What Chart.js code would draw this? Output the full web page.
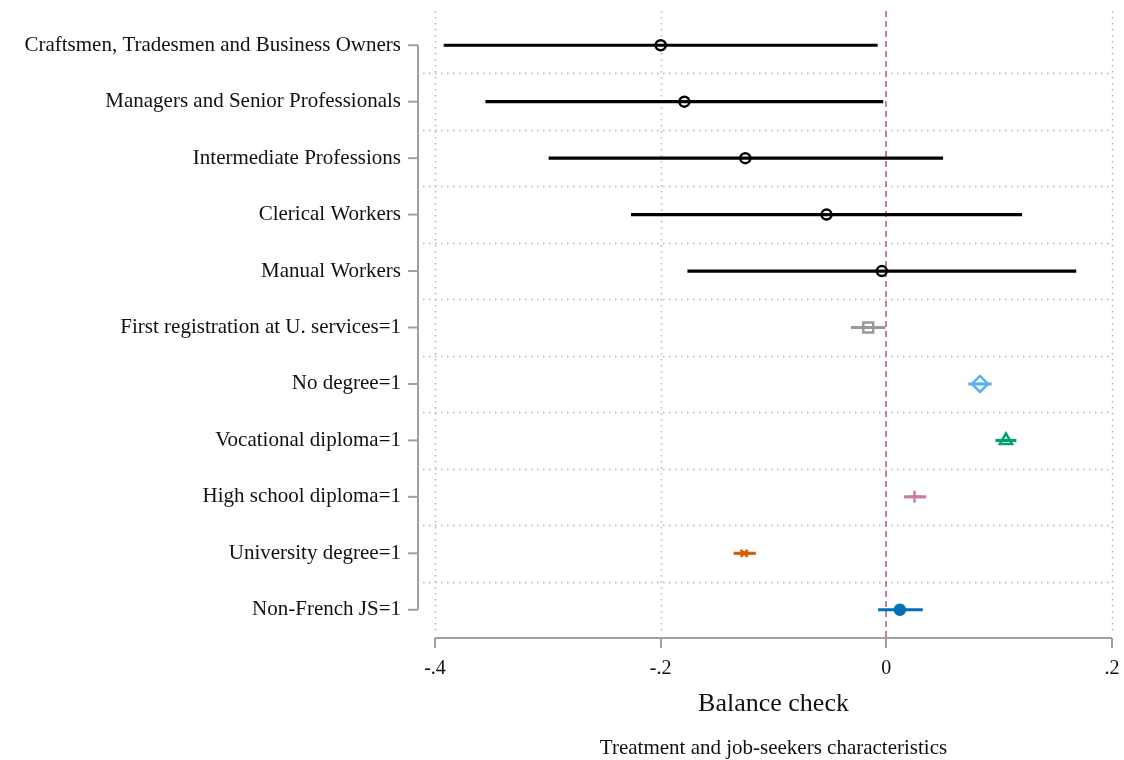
<!DOCTYPE html>
<html>
<head>
<meta charset="utf-8">
<script src="https://cdn.jsdelivr.net/npm/chart.js@4/dist/chart.umd.min.js"></script>
<style>
  html, body { margin: 0; padding: 0; background: #fff; }
  #wrap { width: 1124px; height: 760px; }
</style>
</head>
<body>
<div id="wrap"><canvas id="myChart" width="1124" height="760"></canvas></div>
<script>
// variables on the y axis
var vars = ['Craftsmen, Tradesmen and Business Owners', 'Managers and Senior Professionals',
  'Intermediate Professions', 'Clerical Workers', 'Manual Workers',
  'First registration at U. services=1', 'No degree=1', 'Vocational diploma=1',
  'High school diploma=1', 'University degree=1', 'Non-French JS=1'];
// point estimates and 95% bounds
var est  = [-0.200, -0.179, -0.125, -0.053, -0.004, -0.016, 0.083, 0.106, 0.025, -0.126, 0.012];
var low  = [-0.392, -0.355, -0.299, -0.226, -0.176, -0.031, 0.073, 0.097, 0.016, -0.135, -0.007];
var high = [-0.008, -0.003, 0.050, 0.120, 0.168, -0.001, 0.093, 0.115, 0.035, -0.116, 0.032];
var xTicks = [-0.4, -0.2, 0, 0.2];

var cols = ['#000000', '#000000', '#000000', '#000000', '#000000',
  '#999999', '#56B4E9', '#009E73', '#CC79A7', '#D55E00', '#0072B2'];
var styles = ['circle', 'circle', 'circle', 'circle', 'circle',
  'rect', 'rectRot', 'triangle', 'cross', 'crossRot', 'circle'];
var sizes = [5, 5, 5, 5, 5, 7, 8, 7, 6, 5, 5];
var fills = ['#fff', '#fff', '#fff', '#fff', '#fff', '#fff', '#fff', '#fff', '#fff', '#fff', '#0072B2'];

var serif = "'Liberation Serif', 'DejaVu Serif', serif";

function fmt(v) {
  var s = (Math.round(v * 10) / 10).toString();
  return s.replace('0.', '.');
}

// stata-like frame: dotted grid, detached y axis, zero line
var framePlugin = {
  id: 'frame',
  beforeDatasetsDraw: function(chart) {
    var c = chart.ctx, a = chart.chartArea;
    var xs = chart.scales.x, ys = chart.scales.y;
    c.save();
    c.strokeStyle = '#b4b4b4';
    c.lineWidth = 1.5;
    c.setLineDash([1.5, 4.5]);
    xTicks.forEach(function(t) {
      if (t === 0) return;
      var px = Math.round(xs.getPixelForValue(t)) + 0.5;
      c.beginPath(); c.moveTo(px, a.top - 6); c.lineTo(px, a.bottom - 6); c.stroke();
    });
    for (var i = 0; i < vars.length - 1; i++) {
      var py = Math.round((ys.getPixelForValue(i) + ys.getPixelForValue(i + 1)) / 2) + 0.5;
      c.beginPath(); c.moveTo(a.left - 12, py); c.lineTo(a.right, py); c.stroke();
    }
    // zero line
    c.strokeStyle = '#CC79A7';
    c.lineWidth = 2;
    c.setLineDash([6, 4]);
    var zx = Math.round(xs.getPixelForValue(0));
    c.beginPath(); c.moveTo(zx, a.top - 6); c.lineTo(zx, a.bottom); c.stroke();
    c.setLineDash([]);
    // axes
    c.strokeStyle = '#a0a0a0';
    c.lineWidth = 2;
    c.beginPath(); c.moveTo(a.left, a.bottom); c.lineTo(a.right, a.bottom); c.stroke();
    xTicks.forEach(function(t) {
      var px = Math.round(xs.getPixelForValue(t));
      c.beginPath(); c.moveTo(px, a.bottom); c.lineTo(px, a.bottom + 10); c.stroke();
    });
    var ax = a.left - 17;
    var y0 = ys.getPixelForValue(0), y1 = ys.getPixelForValue(vars.length - 1);
    c.beginPath(); c.moveTo(ax, y0); c.lineTo(ax, y1); c.stroke();
    for (var k = 0; k < vars.length; k++) {
      var ty = ys.getPixelForValue(k);
      c.beginPath(); c.moveTo(ax, ty); c.lineTo(ax - 10, ty); c.stroke();
    }
    c.restore();
  },
  afterDraw: function(chart) {
    var c = chart.ctx, a = chart.chartArea;
    c.save();
    c.fillStyle = '#111';
    c.font = '21px ' + serif;
    c.textAlign = 'center';
    c.textBaseline = 'middle';
    c.fillText('Treatment and job-seekers characteristics', (a.left + a.right) / 2, 748);
    c.restore();
  }
};

var ctx = document.getElementById('myChart');
var myChart = new Chart(ctx, {
  type: 'bar',
  data: {
    labels: vars,
    datasets: [
      {
        type: 'bar',
        indexAxis: 'y',
        data: low.map(function(l, i) { return [l, high[i]]; }),
        backgroundColor: cols,
        barThickness: 2.5,
        grouped: false
      },
      {
        type: 'scatter',
        data: est.map(function(e, i) { return { x: e, y: vars[i] }; }),
        pointStyle: styles,
        pointRadius: sizes,
        pointBorderWidth: 2.5,
        borderWidth: 2.5,
        borderColor: cols,
        backgroundColor: fills
      }
    ]
  },
  options: {
    responsive: false,
    animation: false,
    layout: { padding: { top: 17, right: 12, bottom: 40, left: 0 } },
    plugins: { legend: { display: false }, tooltip: { enabled: false } },
    scales: {
      x: {
        type: 'linear',
        offset: false,
        min: -0.4, max: 0.2,
        afterBuildTicks: function(s) { s.ticks = xTicks.map(function(v) { return { value: v }; }); },
        afterFit: function(s) { s.height = 82; s.paddingLeft = 0; s.paddingRight = 0; },
        grid: { display: false, drawTicks: false, offset: false },
        border: { display: false },
        ticks: { padding: 19, color: '#111', font: { family: serif, size: 20 }, callback: function(v) { return fmt(v); } },
        title: { display: true, text: 'Balance check', color: '#111', padding: { top: 4, bottom: 0 }, font: { family: serif, size: 26 } }
      },
      y: {
        type: 'category',
        labels: vars,
        offset: true,
        afterFit: function(s) { s.width = 435; s.paddingTop = 0; s.paddingBottom = 0; },
        grid: { display: false, drawTicks: false, offset: true },
        border: { display: false },
        ticks: { padding: 34, color: '#111', font: { family: serif, size: 21 } }
      }
    }
  },
  plugins: [framePlugin]
});
</script>
</body>
</html>
